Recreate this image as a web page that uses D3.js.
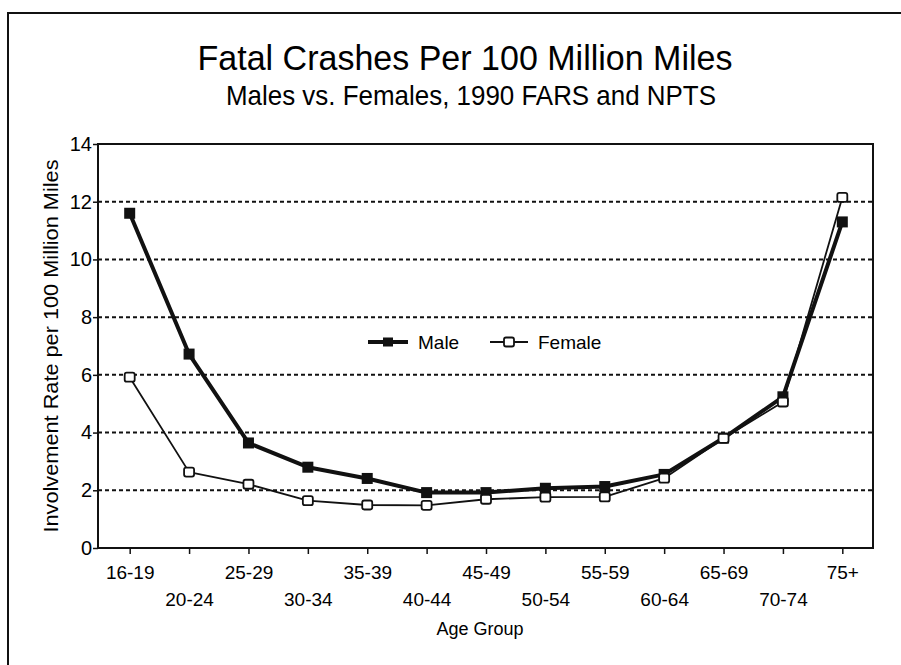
<!DOCTYPE html>
<html>
<head>
<meta charset="utf-8">
<script src="https://cdn.jsdelivr.net/npm/d3@7"></script>
<style>
  html, body { margin: 0; padding: 0; background: #fff; }
  svg { display: block; }
  text { font-family: "Liberation Sans", Arial, Helvetica, sans-serif; fill: #000; }
</style>
</head>
<body>
<svg id="chart" width="901" height="665"></svg>
<script>
const titleText = "Fatal Crashes Per 100 Million Miles";
const subtitleText = "Males vs. Females, 1990 FARS and NPTS";
const yAxisTitle = "Involvement Rate per 100 Million Miles";
const xAxisTitle = "Age Group";
const categories = ["16-19","20-24","25-29","30-34","35-39","40-44","45-49","50-54","55-59","60-64","65-69","70-74","75+"];
const maleValues   = [11.6, 6.72, 3.64, 2.8, 2.41, 1.92, 1.92, 2.07, 2.13, 2.55, 3.81, 5.24, 11.3];
const femaleValues = [5.92, 2.63, 2.21, 1.64, 1.49, 1.48, 1.69, 1.76, 1.77, 2.42, 3.8, 5.06, 12.15];
const yTicks = [0, 2, 4, 6, 8, 10, 12, 14];
const seriesNames = ["Male", "Female"];

const svg = d3.select("#chart");

// outer frame (cropped on right/bottom in the original)
svg.append("rect").attr("x", 8).attr("y", 13).attr("width", 910).attr("height", 670)
  .attr("fill", "none").attr("stroke", "#111").attr("stroke-width", 2);

const plot = { left: 98, right: 873, top: 144, bottom: 548 };

const x = d3.scalePoint().domain(categories).range([100, 872]).padding(0.5);
const y = d3.scaleLinear().domain([0, 14]).range([plot.bottom, plot.top]);

// titles
svg.append("text").attr("x", 465).attr("y", 70).attr("text-anchor", "middle")
  .attr("font-size", 35).attr("textLength", 535).attr("lengthAdjust", "spacingAndGlyphs")
  .text(titleText);
svg.append("text").attr("x", 471).attr("y", 105).attr("text-anchor", "middle")
  .attr("font-size", 28).attr("textLength", 490).attr("lengthAdjust", "spacingAndGlyphs")
  .text(subtitleText);

// gridlines
svg.append("g").selectAll("line").data(yTicks.filter(d => d > 0 && d < 14)).join("line")
  .attr("x1", plot.left).attr("x2", plot.right)
  .attr("y1", d => y(d)).attr("y2", d => y(d))
  .attr("stroke", "#111").attr("stroke-width", 2).attr("stroke-dasharray", "4,3");

// plot border
svg.append("rect").attr("x", plot.left).attr("y", plot.top)
  .attr("width", plot.right - plot.left).attr("height", plot.bottom - plot.top)
  .attr("fill", "none").attr("stroke", "#111").attr("stroke-width", 2);

// y axis
const yAxis = svg.append("g").attr("transform", `translate(${plot.left},0)`)
  .call(d3.axisLeft(y).tickValues(yTicks).tickSize(5).tickPadding(1).tickFormat(d3.format("d")));
yAxis.select(".domain").remove();
yAxis.selectAll(".tick line").attr("stroke", "#111").attr("stroke-width", 1.5);
yAxis.selectAll(".tick text").attr("font-size", 20).attr("fill", "#000")
  .attr("font-family", "Liberation Sans, Arial, sans-serif");

// x axis
const xAxis = svg.append("g").attr("transform", `translate(0,${plot.bottom})`)
  .call(d3.axisBottom(x).tickSize(6));
xAxis.select(".domain").remove();
xAxis.selectAll(".tick line").attr("stroke", "#111").attr("stroke-width", 1.5);
xAxis.selectAll(".tick text").attr("font-size", 19).attr("fill", "#000")
  .attr("font-family", "Liberation Sans, Arial, sans-serif")
  .attr("y", (d, i) => i % 2 === 0 ? 18 : 45)
  .attr("dy", "0.71em");

// axis titles
svg.append("text").attr("transform", "translate(58,346) rotate(-90)")
  .attr("text-anchor", "middle").attr("font-size", 21)
  .attr("textLength", 373).attr("lengthAdjust", "spacingAndGlyphs").text(yAxisTitle);
svg.append("text").attr("x", 480).attr("y", 635).attr("text-anchor", "middle")
  .attr("font-size", 18).text(xAxisTitle);

// lines
const line = d3.line().x((d, i) => x(categories[i])).y(d => y(d));

svg.append("path").datum(maleValues).attr("d", line)
  .attr("fill", "none").attr("stroke", "#111").attr("stroke-width", 4).attr("stroke-linejoin", "round");
svg.append("g").selectAll("rect").data(maleValues).join("rect")
  .attr("x", (d, i) => x(categories[i]) - 5.5).attr("y", d => y(d) - 5.5)
  .attr("width", 11).attr("height", 11).attr("fill", "#111");

svg.append("path").datum(femaleValues).attr("d", line)
  .attr("fill", "none").attr("stroke", "#111").attr("stroke-width", 1.8).attr("stroke-linejoin", "round");
svg.append("g").selectAll("rect").data(femaleValues).join("rect")
  .attr("x", (d, i) => x(categories[i]) - 5).attr("y", d => y(d) - 4.5)
  .attr("width", 10).attr("height", 9).attr("rx", 2)
  .attr("fill", "#fff").attr("stroke", "#111").attr("stroke-width", 1.8);

// legend
const legend = svg.append("g");
const legendItems = [
  { name: seriesNames[0], x1: 368, x2: 408, tx: 418, filled: true },
  { name: seriesNames[1], x1: 490, x2: 528, tx: 538, filled: false }
];
const ly = 342;
legendItems.forEach(it => {
  legend.append("line").attr("x1", it.x1).attr("x2", it.x2).attr("y1", ly).attr("y2", ly)
    .attr("stroke", "#111").attr("stroke-width", it.filled ? 4 : 1.8);
  const cx = (it.x1 + it.x2) / 2;
  legend.append("rect").attr("x", cx - 5).attr("y", ly - 4.5).attr("width", 10).attr("height", 9)
    .attr("rx", it.filled ? 0 : 2)
    .attr("fill", it.filled ? "#111" : "#fff").attr("stroke", "#111").attr("stroke-width", it.filled ? 0 : 1.8);
  legend.append("text").attr("x", it.tx).attr("y", ly + 7).attr("font-size", 19).text(it.name);
});
</script>
</body>
</html>
